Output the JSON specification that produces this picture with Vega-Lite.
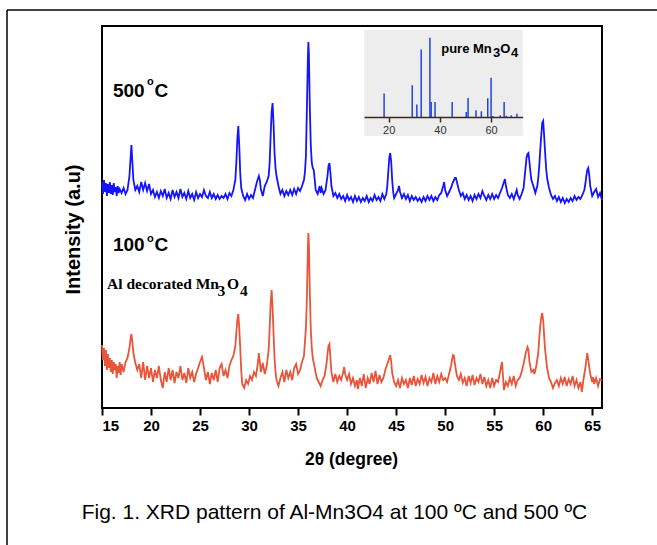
{
  "$schema": "https://vega.github.io/schema/vega-lite/v6.json",
  "width": 500,
  "height": 382,
  "autosize": {"type": "none"},
  "padding": {"left": 102, "top": 26, "right": 55, "bottom": 137},
  "background": "white",
  "config": {"view": {"stroke": "black", "strokeWidth": 2}, "font": "Liberation Sans"},
  "datasets": {
    "xrd": [
      {"t":15.0,"i":226,"s":"500"},{"t":15.1,"i":214,"s":"500"},{"t":15.2,"i":228,"s":"500"},{"t":15.3,"i":216,"s":"500"},{"t":15.4,"i":225,"s":"500"},{"t":15.5,"i":212,"s":"500"},{"t":15.6,"i":224,"s":"500"},{"t":15.7,"i":215,"s":"500"},{"t":15.8,"i":226,"s":"500"},{"t":15.9,"i":214,"s":"500"},{"t":16.0,"i":223,"s":"500"},{"t":16.1,"i":213,"s":"500"},{"t":16.2,"i":225,"s":"500"},{"t":16.3,"i":216,"s":"500"},{"t":16.4,"i":221,"s":"500"},{"t":16.5,"i":212,"s":"500"},{"t":16.6,"i":222,"s":"500"},{"t":16.7,"i":215,"s":"500"},{"t":16.8,"i":219,"s":"500"},{"t":17.0,"i":215,"s":"500"},{"t":17.2,"i":220,"s":"500"},{"t":17.4,"i":214,"s":"500"},{"t":17.6,"i":218,"s":"500"},{"t":17.8,"i":232,"s":"500"},{"t":17.9,"i":248,"s":"500"},{"t":18.0,"i":263,"s":"500"},{"t":18.1,"i":246,"s":"500"},{"t":18.2,"i":228,"s":"500"},{"t":18.4,"i":218,"s":"500"},{"t":18.6,"i":222,"s":"500"},{"t":18.8,"i":216,"s":"500"},{"t":19.0,"i":226,"s":"500"},{"t":19.2,"i":218,"s":"500"},{"t":19.4,"i":225,"s":"500"},{"t":19.6,"i":217,"s":"500"},{"t":19.8,"i":224,"s":"500"},{"t":20.0,"i":214,"s":"500"},{"t":20.2,"i":218,"s":"500"},{"t":20.4,"i":211,"s":"500"},{"t":20.6,"i":216,"s":"500"},{"t":20.8,"i":210,"s":"500"},{"t":21.0,"i":217,"s":"500"},{"t":21.2,"i":212,"s":"500"},{"t":21.4,"i":219,"s":"500"},{"t":21.6,"i":210,"s":"500"},{"t":21.8,"i":215,"s":"500"},{"t":22.0,"i":209,"s":"500"},{"t":22.2,"i":218,"s":"500"},{"t":22.4,"i":211,"s":"500"},{"t":22.6,"i":216,"s":"500"},{"t":22.8,"i":210,"s":"500"},{"t":23.0,"i":219,"s":"500"},{"t":23.2,"i":211,"s":"500"},{"t":23.4,"i":215,"s":"500"},{"t":23.6,"i":209,"s":"500"},{"t":23.8,"i":217,"s":"500"},{"t":24.0,"i":210,"s":"500"},{"t":24.2,"i":214,"s":"500"},{"t":24.4,"i":208,"s":"500"},{"t":24.6,"i":216,"s":"500"},{"t":24.8,"i":210,"s":"500"},{"t":25.0,"i":214,"s":"500"},{"t":25.2,"i":211,"s":"500"},{"t":25.4,"i":218,"s":"500"},{"t":25.6,"i":212,"s":"500"},{"t":25.8,"i":210,"s":"500"},{"t":26.0,"i":216,"s":"500"},{"t":26.2,"i":210,"s":"500"},{"t":26.4,"i":214,"s":"500"},{"t":26.6,"i":209,"s":"500"},{"t":26.8,"i":213,"s":"500"},{"t":27.0,"i":209,"s":"500"},{"t":27.2,"i":212,"s":"500"},{"t":27.4,"i":210,"s":"500"},{"t":27.6,"i":214,"s":"500"},{"t":27.8,"i":209,"s":"500"},{"t":28.0,"i":215,"s":"500"},{"t":28.2,"i":212,"s":"500"},{"t":28.4,"i":218,"s":"500"},{"t":28.6,"i":228,"s":"500"},{"t":28.7,"i":245,"s":"500"},{"t":28.8,"i":268,"s":"500"},{"t":28.9,"i":282,"s":"500"},{"t":29.0,"i":262,"s":"500"},{"t":29.1,"i":235,"s":"500"},{"t":29.2,"i":220,"s":"500"},{"t":29.4,"i":212,"s":"500"},{"t":29.6,"i":208,"s":"500"},{"t":29.8,"i":214,"s":"500"},{"t":30.0,"i":209,"s":"500"},{"t":30.2,"i":213,"s":"500"},{"t":30.4,"i":210,"s":"500"},{"t":30.6,"i":218,"s":"500"},{"t":30.8,"i":226,"s":"500"},{"t":31.0,"i":232,"s":"500"},{"t":31.1,"i":228,"s":"500"},{"t":31.2,"i":219,"s":"500"},{"t":31.4,"i":212,"s":"500"},{"t":31.6,"i":222,"s":"500"},{"t":31.8,"i":226,"s":"500"},{"t":32.0,"i":232,"s":"500"},{"t":32.1,"i":245,"s":"500"},{"t":32.2,"i":272,"s":"500"},{"t":32.3,"i":296,"s":"500"},{"t":32.4,"i":305,"s":"500"},{"t":32.5,"i":284,"s":"500"},{"t":32.6,"i":255,"s":"500"},{"t":32.7,"i":240,"s":"500"},{"t":32.8,"i":232,"s":"500"},{"t":33.0,"i":222,"s":"500"},{"t":33.2,"i":214,"s":"500"},{"t":33.4,"i":218,"s":"500"},{"t":33.6,"i":212,"s":"500"},{"t":33.8,"i":217,"s":"500"},{"t":34.0,"i":213,"s":"500"},{"t":34.2,"i":218,"s":"500"},{"t":34.4,"i":213,"s":"500"},{"t":34.6,"i":219,"s":"500"},{"t":34.8,"i":214,"s":"500"},{"t":35.0,"i":220,"s":"500"},{"t":35.2,"i":217,"s":"500"},{"t":35.4,"i":222,"s":"500"},{"t":35.6,"i":228,"s":"500"},{"t":35.7,"i":236,"s":"500"},{"t":35.8,"i":252,"s":"500"},{"t":35.9,"i":300,"s":"500"},{"t":36.0,"i":350,"s":"500"},{"t":36.05,"i":366,"s":"500"},{"t":36.1,"i":355,"s":"500"},{"t":36.2,"i":300,"s":"500"},{"t":36.3,"i":262,"s":"500"},{"t":36.4,"i":245,"s":"500"},{"t":36.5,"i":240,"s":"500"},{"t":36.6,"i":238,"s":"500"},{"t":36.7,"i":228,"s":"500"},{"t":36.8,"i":218,"s":"500"},{"t":37.0,"i":214,"s":"500"},{"t":37.2,"i":222,"s":"500"},{"t":37.3,"i":215,"s":"500"},{"t":37.4,"i":220,"s":"500"},{"t":37.6,"i":214,"s":"500"},{"t":37.8,"i":218,"s":"500"},{"t":38.0,"i":232,"s":"500"},{"t":38.1,"i":242,"s":"500"},{"t":38.2,"i":245,"s":"500"},{"t":38.3,"i":235,"s":"500"},{"t":38.4,"i":222,"s":"500"},{"t":38.6,"i":212,"s":"500"},{"t":38.8,"i":215,"s":"500"},{"t":39.0,"i":210,"s":"500"},{"t":39.2,"i":214,"s":"500"},{"t":39.4,"i":209,"s":"500"},{"t":39.6,"i":212,"s":"500"},{"t":39.8,"i":207,"s":"500"},{"t":40.0,"i":213,"s":"500"},{"t":40.2,"i":208,"s":"500"},{"t":40.4,"i":211,"s":"500"},{"t":40.6,"i":206,"s":"500"},{"t":40.8,"i":212,"s":"500"},{"t":41.0,"i":207,"s":"500"},{"t":41.2,"i":211,"s":"500"},{"t":41.4,"i":206,"s":"500"},{"t":41.6,"i":210,"s":"500"},{"t":41.8,"i":207,"s":"500"},{"t":42.0,"i":212,"s":"500"},{"t":42.2,"i":206,"s":"500"},{"t":42.4,"i":210,"s":"500"},{"t":42.6,"i":207,"s":"500"},{"t":42.8,"i":213,"s":"500"},{"t":43.0,"i":208,"s":"500"},{"t":43.2,"i":211,"s":"500"},{"t":43.4,"i":207,"s":"500"},{"t":43.6,"i":214,"s":"500"},{"t":43.8,"i":209,"s":"500"},{"t":44.0,"i":214,"s":"500"},{"t":44.1,"i":222,"s":"500"},{"t":44.2,"i":236,"s":"500"},{"t":44.3,"i":250,"s":"500"},{"t":44.4,"i":255,"s":"500"},{"t":44.5,"i":246,"s":"500"},{"t":44.6,"i":228,"s":"500"},{"t":44.7,"i":216,"s":"500"},{"t":44.8,"i":210,"s":"500"},{"t":45.0,"i":214,"s":"500"},{"t":45.2,"i":218,"s":"500"},{"t":45.3,"i":222,"s":"500"},{"t":45.4,"i":216,"s":"500"},{"t":45.6,"i":210,"s":"500"},{"t":45.8,"i":214,"s":"500"},{"t":46.0,"i":209,"s":"500"},{"t":46.2,"i":213,"s":"500"},{"t":46.4,"i":207,"s":"500"},{"t":46.6,"i":212,"s":"500"},{"t":46.8,"i":208,"s":"500"},{"t":47.0,"i":211,"s":"500"},{"t":47.2,"i":207,"s":"500"},{"t":47.4,"i":210,"s":"500"},{"t":47.6,"i":206,"s":"500"},{"t":47.8,"i":211,"s":"500"},{"t":48.0,"i":207,"s":"500"},{"t":48.2,"i":212,"s":"500"},{"t":48.4,"i":208,"s":"500"},{"t":48.6,"i":212,"s":"500"},{"t":48.8,"i":207,"s":"500"},{"t":49.0,"i":211,"s":"500"},{"t":49.2,"i":208,"s":"500"},{"t":49.4,"i":213,"s":"500"},{"t":49.6,"i":215,"s":"500"},{"t":49.8,"i":222,"s":"500"},{"t":49.9,"i":226,"s":"500"},{"t":50.0,"i":218,"s":"500"},{"t":50.2,"i":212,"s":"500"},{"t":50.4,"i":216,"s":"500"},{"t":50.6,"i":220,"s":"500"},{"t":50.8,"i":226,"s":"500"},{"t":51.0,"i":230,"s":"500"},{"t":51.1,"i":230,"s":"500"},{"t":51.2,"i":226,"s":"500"},{"t":51.4,"i":218,"s":"500"},{"t":51.6,"i":212,"s":"500"},{"t":51.8,"i":215,"s":"500"},{"t":52.0,"i":209,"s":"500"},{"t":52.2,"i":213,"s":"500"},{"t":52.4,"i":208,"s":"500"},{"t":52.6,"i":212,"s":"500"},{"t":52.8,"i":207,"s":"500"},{"t":53.0,"i":213,"s":"500"},{"t":53.2,"i":209,"s":"500"},{"t":53.4,"i":214,"s":"500"},{"t":53.6,"i":210,"s":"500"},{"t":53.8,"i":217,"s":"500"},{"t":54.0,"i":212,"s":"500"},{"t":54.2,"i":208,"s":"500"},{"t":54.4,"i":213,"s":"500"},{"t":54.6,"i":209,"s":"500"},{"t":54.8,"i":214,"s":"500"},{"t":55.0,"i":209,"s":"500"},{"t":55.2,"i":213,"s":"500"},{"t":55.4,"i":210,"s":"500"},{"t":55.6,"i":215,"s":"500"},{"t":55.8,"i":220,"s":"500"},{"t":56.0,"i":226,"s":"500"},{"t":56.1,"i":229,"s":"500"},{"t":56.2,"i":222,"s":"500"},{"t":56.4,"i":213,"s":"500"},{"t":56.6,"i":210,"s":"500"},{"t":56.8,"i":214,"s":"500"},{"t":57.0,"i":209,"s":"500"},{"t":57.2,"i":215,"s":"500"},{"t":57.3,"i":218,"s":"500"},{"t":57.4,"i":213,"s":"500"},{"t":57.6,"i":209,"s":"500"},{"t":57.8,"i":214,"s":"500"},{"t":58.0,"i":220,"s":"500"},{"t":58.1,"i":230,"s":"500"},{"t":58.2,"i":240,"s":"500"},{"t":58.3,"i":250,"s":"500"},{"t":58.4,"i":254,"s":"500"},{"t":58.5,"i":255,"s":"500"},{"t":58.6,"i":246,"s":"500"},{"t":58.7,"i":236,"s":"500"},{"t":58.8,"i":228,"s":"500"},{"t":59.0,"i":222,"s":"500"},{"t":59.2,"i":215,"s":"500"},{"t":59.4,"i":222,"s":"500"},{"t":59.5,"i":230,"s":"500"},{"t":59.6,"i":242,"s":"500"},{"t":59.7,"i":258,"s":"500"},{"t":59.8,"i":272,"s":"500"},{"t":59.9,"i":285,"s":"500"},{"t":60.0,"i":287,"s":"500"},{"t":60.1,"i":272,"s":"500"},{"t":60.2,"i":255,"s":"500"},{"t":60.3,"i":240,"s":"500"},{"t":60.4,"i":230,"s":"500"},{"t":60.6,"i":220,"s":"500"},{"t":60.8,"i":213,"s":"500"},{"t":61.0,"i":209,"s":"500"},{"t":61.2,"i":212,"s":"500"},{"t":61.4,"i":207,"s":"500"},{"t":61.6,"i":211,"s":"500"},{"t":61.8,"i":206,"s":"500"},{"t":62.0,"i":210,"s":"500"},{"t":62.2,"i":205,"s":"500"},{"t":62.4,"i":209,"s":"500"},{"t":62.6,"i":206,"s":"500"},{"t":62.8,"i":210,"s":"500"},{"t":63.0,"i":207,"s":"500"},{"t":63.2,"i":212,"s":"500"},{"t":63.4,"i":208,"s":"500"},{"t":63.6,"i":211,"s":"500"},{"t":63.8,"i":209,"s":"500"},{"t":64.0,"i":213,"s":"500"},{"t":64.2,"i":218,"s":"500"},{"t":64.3,"i":224,"s":"500"},{"t":64.4,"i":232,"s":"500"},{"t":64.5,"i":238,"s":"500"},{"t":64.6,"i":240,"s":"500"},{"t":64.7,"i":233,"s":"500"},{"t":64.8,"i":222,"s":"500"},{"t":65.0,"i":212,"s":"500"},{"t":65.2,"i":216,"s":"500"},{"t":65.4,"i":219,"s":"500"},{"t":65.6,"i":211,"s":"500"},{"t":65.8,"i":215,"s":"500"},{"t":66.0,"i":208,"s":"500"},
      {"t":15.0,"i":63,"s":"100"},{"t":15.1,"i":48,"s":"100"},{"t":15.2,"i":60,"s":"100"},{"t":15.3,"i":42,"s":"100"},{"t":15.4,"i":58,"s":"100"},{"t":15.5,"i":38,"s":"100"},{"t":15.6,"i":54,"s":"100"},{"t":15.7,"i":40,"s":"100"},{"t":15.8,"i":50,"s":"100"},{"t":15.9,"i":36,"s":"100"},{"t":16.0,"i":48,"s":"100"},{"t":16.1,"i":34,"s":"100"},{"t":16.2,"i":46,"s":"100"},{"t":16.3,"i":38,"s":"100"},{"t":16.4,"i":44,"s":"100"},{"t":16.5,"i":30,"s":"100"},{"t":16.6,"i":42,"s":"100"},{"t":16.7,"i":35,"s":"100"},{"t":16.8,"i":46,"s":"100"},{"t":16.9,"i":33,"s":"100"},{"t":17.0,"i":44,"s":"100"},{"t":17.2,"i":36,"s":"100"},{"t":17.4,"i":46,"s":"100"},{"t":17.6,"i":50,"s":"100"},{"t":17.8,"i":60,"s":"100"},{"t":17.9,"i":68,"s":"100"},{"t":18.0,"i":74,"s":"100"},{"t":18.1,"i":66,"s":"100"},{"t":18.2,"i":55,"s":"100"},{"t":18.4,"i":45,"s":"100"},{"t":18.6,"i":38,"s":"100"},{"t":18.8,"i":44,"s":"100"},{"t":19.0,"i":30,"s":"100"},{"t":19.2,"i":46,"s":"100"},{"t":19.4,"i":28,"s":"100"},{"t":19.6,"i":42,"s":"100"},{"t":19.8,"i":30,"s":"100"},{"t":20.0,"i":40,"s":"100"},{"t":20.2,"i":26,"s":"100"},{"t":20.4,"i":38,"s":"100"},{"t":20.6,"i":30,"s":"100"},{"t":20.8,"i":42,"s":"100"},{"t":21.0,"i":28,"s":"100"},{"t":21.2,"i":20,"s":"100"},{"t":21.4,"i":36,"s":"100"},{"t":21.6,"i":26,"s":"100"},{"t":21.8,"i":40,"s":"100"},{"t":22.0,"i":28,"s":"100"},{"t":22.2,"i":38,"s":"100"},{"t":22.4,"i":25,"s":"100"},{"t":22.6,"i":36,"s":"100"},{"t":22.8,"i":30,"s":"100"},{"t":23.0,"i":42,"s":"100"},{"t":23.2,"i":28,"s":"100"},{"t":23.4,"i":35,"s":"100"},{"t":23.6,"i":25,"s":"100"},{"t":23.8,"i":40,"s":"100"},{"t":24.0,"i":30,"s":"100"},{"t":24.2,"i":36,"s":"100"},{"t":24.4,"i":26,"s":"100"},{"t":24.6,"i":34,"s":"100"},{"t":24.8,"i":40,"s":"100"},{"t":25.0,"i":46,"s":"100"},{"t":25.2,"i":51,"s":"100"},{"t":25.4,"i":40,"s":"100"},{"t":25.6,"i":28,"s":"100"},{"t":25.8,"i":36,"s":"100"},{"t":26.0,"i":24,"s":"100"},{"t":26.2,"i":35,"s":"100"},{"t":26.4,"i":28,"s":"100"},{"t":26.6,"i":38,"s":"100"},{"t":26.8,"i":26,"s":"100"},{"t":27.0,"i":40,"s":"100"},{"t":27.2,"i":44,"s":"100"},{"t":27.4,"i":32,"s":"100"},{"t":27.6,"i":38,"s":"100"},{"t":27.8,"i":30,"s":"100"},{"t":28.0,"i":42,"s":"100"},{"t":28.2,"i":48,"s":"100"},{"t":28.4,"i":52,"s":"100"},{"t":28.6,"i":62,"s":"100"},{"t":28.7,"i":75,"s":"100"},{"t":28.8,"i":88,"s":"100"},{"t":28.9,"i":94,"s":"100"},{"t":29.0,"i":80,"s":"100"},{"t":29.1,"i":60,"s":"100"},{"t":29.2,"i":38,"s":"100"},{"t":29.3,"i":24,"s":"100"},{"t":29.5,"i":20,"s":"100"},{"t":29.7,"i":28,"s":"100"},{"t":29.9,"i":24,"s":"100"},{"t":30.1,"i":32,"s":"100"},{"t":30.3,"i":28,"s":"100"},{"t":30.5,"i":36,"s":"100"},{"t":30.7,"i":32,"s":"100"},{"t":30.9,"i":45,"s":"100"},{"t":31.0,"i":55,"s":"100"},{"t":31.1,"i":46,"s":"100"},{"t":31.2,"i":36,"s":"100"},{"t":31.4,"i":45,"s":"100"},{"t":31.6,"i":34,"s":"100"},{"t":31.8,"i":42,"s":"100"},{"t":32.0,"i":58,"s":"100"},{"t":32.1,"i":80,"s":"100"},{"t":32.2,"i":104,"s":"100"},{"t":32.3,"i":118,"s":"100"},{"t":32.4,"i":100,"s":"100"},{"t":32.5,"i":74,"s":"100"},{"t":32.6,"i":50,"s":"100"},{"t":32.7,"i":36,"s":"100"},{"t":32.8,"i":28,"s":"100"},{"t":33.0,"i":22,"s":"100"},{"t":33.2,"i":30,"s":"100"},{"t":33.4,"i":36,"s":"100"},{"t":33.6,"i":26,"s":"100"},{"t":33.8,"i":38,"s":"100"},{"t":34.0,"i":30,"s":"100"},{"t":34.2,"i":36,"s":"100"},{"t":34.4,"i":28,"s":"100"},{"t":34.6,"i":40,"s":"100"},{"t":34.8,"i":44,"s":"100"},{"t":35.0,"i":34,"s":"100"},{"t":35.2,"i":38,"s":"100"},{"t":35.4,"i":46,"s":"100"},{"t":35.6,"i":52,"s":"100"},{"t":35.8,"i":80,"s":"100"},{"t":35.9,"i":110,"s":"100"},{"t":36.0,"i":160,"s":"100"},{"t":36.05,"i":175,"s":"100"},{"t":36.1,"i":165,"s":"100"},{"t":36.2,"i":115,"s":"100"},{"t":36.3,"i":78,"s":"100"},{"t":36.4,"i":60,"s":"100"},{"t":36.5,"i":50,"s":"100"},{"t":36.7,"i":40,"s":"100"},{"t":36.9,"i":30,"s":"100"},{"t":37.1,"i":26,"s":"100"},{"t":37.3,"i":22,"s":"100"},{"t":37.5,"i":28,"s":"100"},{"t":37.7,"i":32,"s":"100"},{"t":37.9,"i":44,"s":"100"},{"t":38.0,"i":54,"s":"100"},{"t":38.1,"i":62,"s":"100"},{"t":38.2,"i":64,"s":"100"},{"t":38.3,"i":50,"s":"100"},{"t":38.4,"i":36,"s":"100"},{"t":38.6,"i":26,"s":"100"},{"t":38.8,"i":34,"s":"100"},{"t":39.0,"i":26,"s":"100"},{"t":39.2,"i":32,"s":"100"},{"t":39.4,"i":28,"s":"100"},{"t":39.6,"i":36,"s":"100"},{"t":39.7,"i":41,"s":"100"},{"t":39.8,"i":34,"s":"100"},{"t":40.0,"i":28,"s":"100"},{"t":40.2,"i":34,"s":"100"},{"t":40.4,"i":24,"s":"100"},{"t":40.6,"i":30,"s":"100"},{"t":40.8,"i":22,"s":"100"},{"t":41.0,"i":28,"s":"100"},{"t":41.1,"i":19,"s":"100"},{"t":41.3,"i":30,"s":"100"},{"t":41.5,"i":22,"s":"100"},{"t":41.7,"i":34,"s":"100"},{"t":41.9,"i":20,"s":"100"},{"t":42.1,"i":30,"s":"100"},{"t":42.3,"i":24,"s":"100"},{"t":42.5,"i":35,"s":"100"},{"t":42.7,"i":26,"s":"100"},{"t":42.9,"i":37,"s":"100"},{"t":43.1,"i":24,"s":"100"},{"t":43.3,"i":33,"s":"100"},{"t":43.5,"i":26,"s":"100"},{"t":43.7,"i":30,"s":"100"},{"t":43.9,"i":38,"s":"100"},{"t":44.1,"i":44,"s":"100"},{"t":44.3,"i":50,"s":"100"},{"t":44.4,"i":53,"s":"100"},{"t":44.5,"i":46,"s":"100"},{"t":44.6,"i":35,"s":"100"},{"t":44.8,"i":26,"s":"100"},{"t":45.0,"i":22,"s":"100"},{"t":45.2,"i":28,"s":"100"},{"t":45.4,"i":20,"s":"100"},{"t":45.6,"i":30,"s":"100"},{"t":45.8,"i":24,"s":"100"},{"t":46.0,"i":28,"s":"100"},{"t":46.2,"i":20,"s":"100"},{"t":46.4,"i":30,"s":"100"},{"t":46.6,"i":23,"s":"100"},{"t":46.8,"i":32,"s":"100"},{"t":47.0,"i":22,"s":"100"},{"t":47.2,"i":29,"s":"100"},{"t":47.4,"i":24,"s":"100"},{"t":47.6,"i":33,"s":"100"},{"t":47.8,"i":25,"s":"100"},{"t":48.0,"i":31,"s":"100"},{"t":48.2,"i":22,"s":"100"},{"t":48.4,"i":30,"s":"100"},{"t":48.6,"i":26,"s":"100"},{"t":48.8,"i":35,"s":"100"},{"t":49.0,"i":24,"s":"100"},{"t":49.2,"i":32,"s":"100"},{"t":49.4,"i":26,"s":"100"},{"t":49.6,"i":34,"s":"100"},{"t":49.8,"i":28,"s":"100"},{"t":50.0,"i":30,"s":"100"},{"t":50.2,"i":26,"s":"100"},{"t":50.4,"i":34,"s":"100"},{"t":50.6,"i":42,"s":"100"},{"t":50.7,"i":48,"s":"100"},{"t":50.8,"i":53,"s":"100"},{"t":50.9,"i":52,"s":"100"},{"t":51.0,"i":44,"s":"100"},{"t":51.2,"i":32,"s":"100"},{"t":51.4,"i":28,"s":"100"},{"t":51.6,"i":34,"s":"100"},{"t":51.8,"i":25,"s":"100"},{"t":52.0,"i":30,"s":"100"},{"t":52.2,"i":22,"s":"100"},{"t":52.4,"i":32,"s":"100"},{"t":52.6,"i":25,"s":"100"},{"t":52.8,"i":33,"s":"100"},{"t":53.0,"i":23,"s":"100"},{"t":53.2,"i":30,"s":"100"},{"t":53.4,"i":26,"s":"100"},{"t":53.6,"i":34,"s":"100"},{"t":53.8,"i":24,"s":"100"},{"t":54.0,"i":31,"s":"100"},{"t":54.2,"i":22,"s":"100"},{"t":54.4,"i":28,"s":"100"},{"t":54.6,"i":20,"s":"100"},{"t":54.8,"i":30,"s":"100"},{"t":55.0,"i":22,"s":"100"},{"t":55.2,"i":28,"s":"100"},{"t":55.4,"i":26,"s":"100"},{"t":55.6,"i":36,"s":"100"},{"t":55.8,"i":46,"s":"100"},{"t":55.9,"i":32,"s":"100"},{"t":56.0,"i":18,"s":"100"},{"t":56.2,"i":26,"s":"100"},{"t":56.4,"i":22,"s":"100"},{"t":56.6,"i":30,"s":"100"},{"t":56.8,"i":24,"s":"100"},{"t":57.0,"i":32,"s":"100"},{"t":57.2,"i":22,"s":"100"},{"t":57.4,"i":28,"s":"100"},{"t":57.6,"i":30,"s":"100"},{"t":57.8,"i":36,"s":"100"},{"t":58.0,"i":44,"s":"100"},{"t":58.2,"i":54,"s":"100"},{"t":58.4,"i":61,"s":"100"},{"t":58.5,"i":58,"s":"100"},{"t":58.6,"i":46,"s":"100"},{"t":58.8,"i":36,"s":"100"},{"t":59.0,"i":38,"s":"100"},{"t":59.1,"i":34,"s":"100"},{"t":59.3,"i":42,"s":"100"},{"t":59.5,"i":55,"s":"100"},{"t":59.6,"i":70,"s":"100"},{"t":59.7,"i":82,"s":"100"},{"t":59.8,"i":90,"s":"100"},{"t":59.9,"i":95,"s":"100"},{"t":60.0,"i":88,"s":"100"},{"t":60.1,"i":72,"s":"100"},{"t":60.2,"i":58,"s":"100"},{"t":60.4,"i":40,"s":"100"},{"t":60.6,"i":30,"s":"100"},{"t":60.8,"i":26,"s":"100"},{"t":61.0,"i":20,"s":"100"},{"t":61.2,"i":25,"s":"100"},{"t":61.4,"i":28,"s":"100"},{"t":61.6,"i":22,"s":"100"},{"t":61.8,"i":30,"s":"100"},{"t":62.0,"i":24,"s":"100"},{"t":62.2,"i":31,"s":"100"},{"t":62.4,"i":22,"s":"100"},{"t":62.6,"i":29,"s":"100"},{"t":62.8,"i":24,"s":"100"},{"t":63.0,"i":32,"s":"100"},{"t":63.2,"i":22,"s":"100"},{"t":63.4,"i":28,"s":"100"},{"t":63.6,"i":20,"s":"100"},{"t":63.8,"i":26,"s":"100"},{"t":63.95,"i":16,"s":"100"},{"t":64.1,"i":28,"s":"100"},{"t":64.3,"i":40,"s":"100"},{"t":64.4,"i":48,"s":"100"},{"t":64.5,"i":55,"s":"100"},{"t":64.6,"i":48,"s":"100"},{"t":64.8,"i":34,"s":"100"},{"t":65.0,"i":26,"s":"100"},{"t":65.1,"i":31,"s":"100"},{"t":65.2,"i":24,"s":"100"},{"t":65.4,"i":30,"s":"100"},{"t":65.6,"i":22,"s":"100"},{"t":65.8,"i":29,"s":"100"},{"t":66.0,"i":28,"s":"100"}
    ],
    "ref": [
      {"t":18.2,"h":29.5},{"t":29.2,"h":40},{"t":31.0,"h":15.6},{"t":32.7,"h":85},{"t":36.1,"h":100},{"t":36.6,"h":19},{"t":38.1,"h":19},{"t":44.8,"h":19},{"t":50.3,"h":6.3},{"t":51.0,"h":24},{"t":54.1,"h":8.4},{"t":56.2,"h":7.2},{"t":58.7,"h":23.6},{"t":60.0,"h":49.4},{"t":60.7,"h":1.3},{"t":63.6,"h":2.1},{"t":65.1,"h":19},{"t":65.9,"h":1.7},{"t":67.9,"h":2.1},{"t":70.1,"h":4.2}
    ]
  },
  "layer": [
    {
      "layer": [
        {
          "data": {"values": [{}]},
          "mark": {"type": "rule", "color": "black", "strokeWidth": 1.5, "clip": false},
          "encoding": {"x": {"datum": 5.31, "type": "quantitative"}, "x2": {"datum": 72}, "y": {"datum": 398, "type": "quantitative"}}
        },
        {
          "data": {"values": [{}]},
          "mark": {"type": "rule", "color": "black", "strokeWidth": 1.5, "clip": false},
          "encoding": {"x": {"datum": 5.31, "type": "quantitative"}, "y": {"datum": 398, "type": "quantitative"}, "y2": {"datum": -150}}
        },
        {
          "data": {"values": [{}]},
          "mark": {"type": "rect", "color": "#ededed"},
          "encoding": {"x": {"datum": 41.735, "type": "quantitative"}, "x2": {"datum": 57.93}, "y": {"datum": 272, "type": "quantitative"}, "y2": {"datum": 378}}
        },
        {
          "data": {"name": "xrd"},
          "mark": {"type": "line", "strokeWidth": 1.8},
          "encoding": {
            "x": {"field": "t", "type": "quantitative",
              "scale": {"domain": [15, 66], "nice": false, "zero": false},
              "axis": {"orient": "bottom", "values": [15, 20, 25, 30, 35, 40, 45, 50, 55, 60, 65], "domain": false, "grid": false, "tickColor": "black", "tickWidth": 2, "tickSize": 7, "labelFontSize": 15, "labelFontWeight": "bold", "labelColor": "black", "labelPadding": 3, "labelFont": "Liberation Sans", "title": "2θ (degree)", "titleFontSize": 17.5, "titleFontWeight": "bold", "titleColor": "black", "titleFont": "Liberation Sans", "titleX": 249, "titleY": 51, "titleBaseline": "middle", "titleAlign": "center"}},
            "y": {"field": "i", "type": "quantitative",
              "scale": {"domain": [0, 382], "nice": false, "zero": false},
              "axis": {"orient": "left", "labels": false, "ticks": false, "domain": false, "grid": false, "title": "Intensity (a.u)", "titleFontSize": 20, "titleFontWeight": "bold", "titleColor": "black", "titleFont": "Liberation Sans", "titleX": -29, "titleY": 203, "titleAngle": 270, "titleAlign": "center", "titleBaseline": "middle"}},
            "color": {"field": "s", "type": "nominal", "scale": {"domain": ["500", "100"], "range": ["#1414ff", "#e8553b"]}, "legend": null}
          }
        },
        {"data": {"values": [{}]}, "mark": {"type": "text", "text": "500", "font": "Liberation Sans", "fontWeight": "bold", "fontSize": 19, "align": "left", "baseline": "alphabetic", "color": "black"}, "encoding": {"x": {"datum": 16.12, "type": "quantitative"}, "y": {"datum": 311, "type": "quantitative"}}},
        {"data": {"values": [{}]}, "mark": {"type": "text", "text": "o", "font": "Liberation Sans", "fontWeight": "bold", "fontSize": 11, "align": "left", "baseline": "alphabetic", "color": "black"}, "encoding": {"x": {"datum": 19.59, "type": "quantitative"}, "y": {"datum": 323, "type": "quantitative"}}},
        {"data": {"values": [{}]}, "mark": {"type": "text", "text": "C", "font": "Liberation Sans", "fontWeight": "bold", "fontSize": 19, "align": "left", "baseline": "alphabetic", "color": "black"}, "encoding": {"x": {"datum": 20.35, "type": "quantitative"}, "y": {"datum": 311, "type": "quantitative"}}},
        {"data": {"values": [{}]}, "mark": {"type": "text", "text": "100", "font": "Liberation Sans", "fontWeight": "bold", "fontSize": 19, "align": "left", "baseline": "alphabetic", "color": "black"}, "encoding": {"x": {"datum": 16.12, "type": "quantitative"}, "y": {"datum": 157, "type": "quantitative"}}},
        {"data": {"values": [{}]}, "mark": {"type": "text", "text": "o", "font": "Liberation Sans", "fontWeight": "bold", "fontSize": 11, "align": "left", "baseline": "alphabetic", "color": "black"}, "encoding": {"x": {"datum": 19.59, "type": "quantitative"}, "y": {"datum": 166, "type": "quantitative"}}},
        {"data": {"values": [{}]}, "mark": {"type": "text", "text": "C", "font": "Liberation Sans", "fontWeight": "bold", "fontSize": 19, "align": "left", "baseline": "alphabetic", "color": "black"}, "encoding": {"x": {"datum": 20.35, "type": "quantitative"}, "y": {"datum": 157, "type": "quantitative"}}},
        {"data": {"values": [{}]}, "mark": {"type": "text", "text": "Al decorated Mn", "font": "Liberation Serif", "fontWeight": "bold", "fontSize": 15.5, "align": "left", "baseline": "alphabetic", "color": "black"}, "encoding": {"x": {"datum": 15.51, "type": "quantitative"}, "y": {"datum": 118.7, "type": "quantitative"}}},
        {"data": {"values": [{}]}, "mark": {"type": "text", "text": "3", "font": "Liberation Serif", "fontWeight": "bold", "fontSize": 15.5, "align": "left", "baseline": "alphabetic", "color": "black"}, "encoding": {"x": {"datum": 26.78, "type": "quantitative"}, "y": {"datum": 112, "type": "quantitative"}}},
        {"data": {"values": [{}]}, "mark": {"type": "text", "text": "O", "font": "Liberation Serif", "fontWeight": "bold", "fontSize": 15.5, "align": "left", "baseline": "alphabetic", "color": "black"}, "encoding": {"x": {"datum": 27.76, "type": "quantitative"}, "y": {"datum": 118.7, "type": "quantitative"}}},
        {"data": {"values": [{}]}, "mark": {"type": "text", "text": "4", "font": "Liberation Serif", "fontWeight": "bold", "fontSize": 15.5, "align": "left", "baseline": "alphabetic", "color": "black"}, "encoding": {"x": {"datum": 29.08, "type": "quantitative"}, "y": {"datum": 112, "type": "quantitative"}}},
        {"data": {"values": [{}]}, "mark": {"type": "text", "text": "pure Mn", "font": "Liberation Sans", "fontWeight": "bold", "fontSize": 13, "align": "left", "baseline": "alphabetic", "color": "black"}, "encoding": {"x": {"datum": 49.6, "type": "quantitative"}, "y": {"datum": 355.3, "type": "quantitative"}}},
        {"data": {"values": [{}]}, "mark": {"type": "text", "text": "3", "font": "Liberation Sans", "fontWeight": "bold", "fontSize": 13, "align": "left", "baseline": "alphabetic", "color": "black"}, "encoding": {"x": {"datum": 54.88, "type": "quantitative"}, "y": {"datum": 350.7, "type": "quantitative"}}},
        {"data": {"values": [{}]}, "mark": {"type": "text", "text": "O", "font": "Liberation Sans", "fontWeight": "bold", "fontSize": 13, "align": "left", "baseline": "alphabetic", "color": "black"}, "encoding": {"x": {"datum": 55.63, "type": "quantitative"}, "y": {"datum": 355.3, "type": "quantitative"}}},
        {"data": {"values": [{}]}, "mark": {"type": "text", "text": "4", "font": "Liberation Sans", "fontWeight": "bold", "fontSize": 13, "align": "left", "baseline": "alphabetic", "color": "black"}, "encoding": {"x": {"datum": 56.73, "type": "quantitative"}, "y": {"datum": 350.7, "type": "quantitative"}}},
        {"data": {"values": [{}]}, "mark": {"type": "text", "text": "Fig. 1. XRD pattern of Al-Mn3O4 at 100 ºC and 500 ºC", "font": "Liberation Sans", "fontWeight": "normal", "fontSize": 21, "align": "center", "baseline": "alphabetic", "color": "black"}, "encoding": {"x": {"datum": 38.71, "type": "quantitative"}, "y": {"datum": -110.5, "type": "quantitative"}}}
      ]
    },
    {
      "data": {"name": "ref"},
      "mark": {"type": "bar", "color": "#1f45e0", "width": 1.5, "orient": "vertical"},
      "encoding": {
        "x": {"field": "t", "type": "quantitative",
          "scale": {"domain": [12.3, 70.4], "range": [262, 420.7], "nice": false, "zero": false},
          "axis": {"orient": "bottom", "offset": -291, "zindex": 1, "values": [20, 40, 60], "grid": false, "domainColor": "#3a2a22", "domainWidth": 1.5, "tickColor": "#3a2a22", "tickWidth": 1.5, "tickSize": 5, "labelFontSize": 11, "labelColor": "#333333", "labelPadding": 2, "labelFont": "Liberation Sans", "title": null}},
        "y": {"field": "h", "type": "quantitative", "stack": null,
          "scale": {"domain": [-24, 110], "range": [110, 3.8], "nice": false, "zero": false},
          "axis": null}
      }
    }
  ],
  "resolve": {"scale": {"x": "independent", "y": "independent"}, "axis": {"x": "independent", "y": "independent"}}
}
